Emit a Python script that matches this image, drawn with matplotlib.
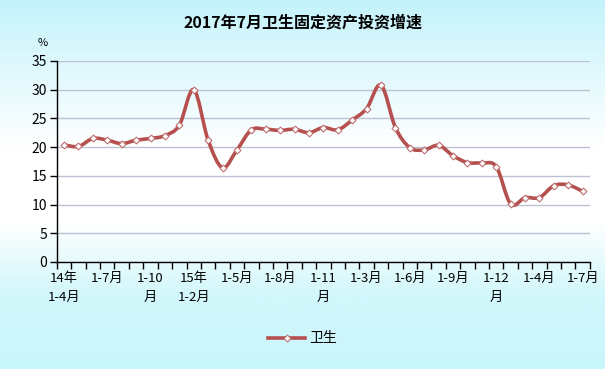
import numpy as np
import matplotlib
matplotlib.use("Agg")
import matplotlib.pyplot as plt
from matplotlib.path import Path
from matplotlib.patches import PathPatch
from matplotlib.lines import Line2D
from matplotlib.colors import LinearSegmentedColormap

plt.rcParams['font.family'] = ['Noto Sans CJK SC', 'DejaVu Sans']

title = "2017年7月卫生固定资产投资增速"
series_name = "卫生"

# 2014 1-4月 ... 2017 1-7月 (cumulative growth, %)
values = [20.4, 20.1, 21.5, 21.2, 20.6, 21.2, 21.5, 22.0, 23.8,
          30.0, 21.2, 16.4, 19.5, 23.0, 23.1, 22.9, 23.1, 22.5, 23.4, 23.0,
          24.7, 26.7, 30.8, 23.4, 19.9, 19.5, 20.3, 18.5, 17.3, 17.2, 16.6,
          10.1, 11.2, 11.2, 13.3, 13.4, 12.3]

tick_idx = [0, 3, 6, 9, 12, 15, 18, 21, 24, 27, 30, 33, 36]
tick_labels = ["14年\n1-4月", "1-7月", "1-10\n月", "15年\n1-2月", "1-5月", "1-8月",
               "1-11\n月", "1-3月", "1-6月", "1-9月", "1-12\n月", "1-4月", "1-7月"]

line_color = "#b5504f"

fig = plt.figure(figsize=(6.05, 3.69), dpi=100)

# background gradient over the whole figure
bg = fig.add_axes([0, 0, 1, 1], zorder=-10)
grad = LinearSegmentedColormap.from_list(
    "bg", ["#c4f3fb", "#e2f9fd", "#ffffff", "#ffffff", "#d2f7fb", "#c9f6fb"])
bg.imshow(np.linspace(0, 1, 256).reshape(-1, 1), aspect="auto", cmap=grad,
          extent=[0, 1, 0, 1])
bg.axis("off")

ax = fig.add_axes([0.094, 0.29, 0.881, 0.545])
ax.set_facecolor("none")

n = len(values)
x = np.arange(n)
y = np.array(values)

# smoothed line (Catmull-Rom as cubic Bezier, like Excel's smooth line)
pts = np.column_stack([x, y])
verts = [pts[0]]
codes = [Path.MOVETO]
for i in range(n - 1):
    p0 = pts[i - 1] if i > 0 else pts[i]
    p1 = pts[i]
    p2 = pts[i + 1]
    p3 = pts[i + 2] if i + 2 < n else pts[i + 1]
    c1 = p1 + (p2 - p0) / 6
    c2 = p2 - (p3 - p1) / 6
    verts += [c1, c2, p2]
    codes += [Path.CURVE4] * 3
ax.add_patch(PathPatch(Path(verts, codes), facecolor="none",
                       edgecolor=line_color, lw=2.6, zorder=3,
                       capstyle="round", joinstyle="round"))
ax.plot(x, y, ls="none", marker="D", ms=3.5, mfc="white", mec="#c07070",
        mew=0.8, zorder=4)

ax.set_xlim(-0.5, n - 0.5)
ax.set_ylim(0, 35)
ax.set_yticks(range(0, 36, 5))
ax.yaxis.grid(True, color="#bcc2d2", lw=1)
ax.set_axisbelow(True)

ax.set_xticks(np.arange(-0.5, n, 1), minor=False)
ax.set_xticklabels([])
ax.set_xticks(tick_idx, minor=True)
ax.set_xticklabels(tick_labels, minor=True, fontsize=9.5, linespacing=1.6)
ax.tick_params(axis="x", which="major", length=5, width=1, direction="out")
ax.tick_params(axis="x", which="minor", length=0, pad=7)
ax.tick_params(axis="y", length=5, width=1, labelsize=10, pad=2)
for lab in ax.get_xticklabels(minor=True):
    lab.set_verticalalignment("top")

for s in ["top", "right"]:
    ax.spines[s].set_visible(False)
for s in ["left", "bottom"]:
    ax.spines[s].set_color("black")
    ax.spines[s].set_linewidth(1)

fig.text(0.5, 0.94, title, ha="center", va="center", fontsize=11.5,
         fontweight="bold")
fig.text(0.07, 0.883, "%", ha="center", va="center", fontsize=8)

handle = Line2D([], [], color=line_color, lw=2.6, marker="D", ms=3.5,
                mfc="white", mec="#c07070", mew=0.8)
fig.legend([handle], [series_name], loc="center", bbox_to_anchor=(0.5, 0.083),
           frameon=False, fontsize=10, handlelength=2.6, handletextpad=0.3)

fig.savefig("out.png", dpi=100)
